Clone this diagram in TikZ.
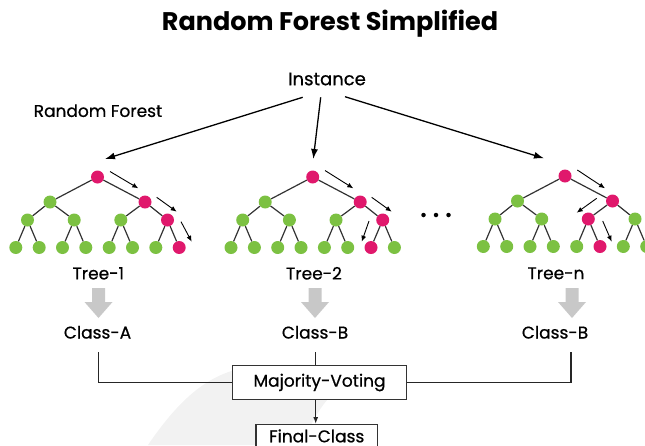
\documentclass[tikz,border=0pt]{standalone}
\usepackage{fontspec}
\setmainfont{Poppins}
\newfontfamily\medfont[FakeBold=0.7]{Poppins}
\usetikzlibrary{arrows.meta,calc}
\definecolor{lg}{HTML}{7CC142}
\definecolor{mg}{HTML}{E0186C}
\definecolor{edgec}{HTML}{333333}
\definecolor{blockc}{HTML}{C8C8C8}
\definecolor{wm}{HTML}{F2F2F2}
\tikzset{
  gn/.style={circle,fill=lg,inner sep=0pt,minimum size=13pt},
  rn/.style={circle,fill=mg,inner sep=0pt,minimum size=13pt},
  tedge/.style={draw=edgec,line width=1.2pt},
  patharrow/.style={draw=black,line width=0.9pt,-{Latex[length=6pt,width=5pt]}},
  bigarrow/.style={draw=black,line width=1.3pt,-{Latex[length=10pt,width=7pt]}},
  lbl/.style={font=\medfont\fontsize{17}{20}\selectfont,inner sep=0pt},
  vbox/.style={draw=edgec,line width=1.2pt,fill=white,inner sep=0pt,font=\medfont\fontsize{17}{20}\selectfont},
  conn/.style={draw=black!85,line width=1.5pt},
  dotn/.style={circle,fill=black,inner sep=0pt,minimum size=4.5pt},
}
\newcommand{\treeedges}[1]{%
  \draw[tedge] (#1r)--(#1a) (#1r)--(#1b)
    (#1a)--(#1c) (#1a)--(#1d) (#1b)--(#1e) (#1b)--(#1f)
    (#1c)--(#1l1) (#1c)--(#1l2) (#1d)--(#1l3) (#1d)--(#1l4)
    (#1e)--(#1l5) (#1e)--(#1l6) (#1f)--(#1l7) (#1f)--(#1l8);}
\begin{document}
\begin{tikzpicture}[x=1pt,y=-1pt]
\useasboundingbox (0,0) rectangle (645,445);
% watermark
\fill[wm] (148,445) .. controls (180,398) and (210,372) .. (250,367)
  .. controls (300,362) and (350,366) .. (380,372)
  .. controls (345,375) and (318,400) .. (303,445) -- cycle;

% title and labels
\node[font=\bfseries\fontsize{25.5}{30}\selectfont,inner sep=0pt] (title) at (330,23.5) {Random Forest Simplified};
\node[lbl,font=\medfont\fontsize{18}{22}\selectfont] (inst) at (327,79) {Instance};
\node[lbl] (rf) at (98,110.7) {Random Forest};

% Tree 1
\begin{scope}[shift={(97.5,177)}]
\node[rn] (Ar) at (0,0) {};
\node[gn] (Aa) at (-47.5,25) {}; \node[rn] (Ab) at (47.5,25) {};
\node[gn] (Ac) at (-70,43) {}; \node[gn] (Ad) at (-23.3,43) {};
\node[gn] (Ae) at (23.3,43) {}; \node[rn] (Af) at (70,43) {};
\node[gn] (Al1) at (-81.7,70.5) {}; \node[gn] (Al2) at (-58.3,70.5) {};
\node[gn] (Al3) at (-35,70.5) {}; \node[gn] (Al4) at (-11.7,70.5) {};
\node[gn] (Al5) at (11.7,70.5) {}; \node[gn] (Al6) at (35,70.5) {};
\node[gn] (Al7) at (58.3,70.5) {}; \node[rn] (Al8) at (81.7,70.5) {};
\draw[patharrow] (12.5,-5.5) -- (40.8,11.3);
\draw[patharrow] (59.2,20.3) -- (79.2,34.7);
\draw[patharrow] (83.5,44.7) -- (94.2,64.7);
\end{scope}

% Tree 2
\begin{scope}[shift={(312.7,177)}]
\node[rn] (Br) at (0,0) {};
\node[gn] (Ba) at (-47.5,25) {}; \node[rn] (Bb) at (47.5,25) {};
\node[gn] (Bc) at (-70,43) {}; \node[gn] (Bd) at (-23.3,43) {};
\node[gn] (Be) at (23.3,43) {}; \node[rn] (Bf) at (70,43) {};
\node[gn] (Bl1) at (-81.7,70.5) {}; \node[gn] (Bl2) at (-58.3,70.5) {};
\node[gn] (Bl3) at (-35,70.5) {}; \node[gn] (Bl4) at (-11.7,70.5) {};
\node[gn] (Bl5) at (11.7,70.5) {}; \node[gn] (Bl6) at (35,70.5) {};
\node[rn] (Bl7) at (58.3,70.5) {}; \node[gn] (Bl8) at (81.7,70.5) {};
\draw[patharrow] (12.3,-6.5) -- (40.6,11.3);
\draw[patharrow] (59,20.3) -- (79,34.7);
\draw[patharrow] (56.3,44) -- (49,64.7);
\end{scope}

% Tree 3
\begin{scope}[shift={(565,176)}]
\node[rn] (Cr) at (0,0) {};
\node[gn] (Ca) at (-47.5,25) {}; \node[rn] (Cb) at (47.5,25) {};
\node[gn] (Cc) at (-70,43) {}; \node[gn] (Cd) at (-23.3,43) {};
\node[rn] (Ce) at (23.3,43) {}; \node[gn] (Cf) at (70,43) {};
\node[gn] (Cl1) at (-81.7,70.5) {}; \node[gn] (Cl2) at (-58.3,70.5) {};
\node[gn] (Cl3) at (-35,70.5) {}; \node[gn] (Cl4) at (-11.7,70.5) {};
\node[gn] (Cl5) at (11.7,70.5) {}; \node[rn] (Cl6) at (35,70.5) {};
\node[gn] (Cl7) at (58.3,70.5) {}; \node[gn] (Cl8) at (81.7,70.5) {};
\draw[patharrow] (12.3,-6) -- (40,12.3);
\draw[patharrow] (31.7,22.3) -- (11.7,36.7);
\draw[patharrow] (37.7,45) -- (46.7,65.7);
\end{scope}

\treeedges{A}\treeedges{B}\treeedges{C}

% dots
\node[dotn] (d1) at (423.5,215) {};
\node[dotn] (d2) at (436,215) {};
\node[dotn] (d3) at (448.5,215) {};

% instance arrows
\coordinate (s1) at (302.7,97.3);
\coordinate (s2) at (320.7,97.3);
\coordinate (s3) at (345,96.7);
\coordinate (e1) at (105,159);
\coordinate (e2) at (313.3,159);
\coordinate (e3) at (544,158.3);
\draw[bigarrow] (s1) -- (e1);
\draw[bigarrow] (s2) -- (e2);
\draw[bigarrow] (s3) -- (e3);

% tree labels
\node[lbl] (t1) at (98.3,273.3) {Tree-1};
\node[lbl] (t2) at (314,273.3) {Tree-2};
\node[lbl] (t3) at (556,273.3) {Tree-n};

% gray block arrows
\foreach \x/\nm in {98.5/g1,315/g2,572/g3}{
  \coordinate (\nm) at (\x,288);
  \fill[blockc] ($(\nm)+(-6.5,0)$) -- ++(13,0) -- ++(0,14) -- ++(7.5,0) -- ($(\nm)+(0,30)$) -- ($(\nm)+(-14,14)$) -- ++(7.5,0) -- cycle;
}

% class labels
\node[lbl] (c1) at (97.5,332.3) {Class-A};
\node[lbl] (c2) at (315,332.3) {Class-B};
\node[lbl] (c3) at (555,332.3) {Class-B};

% voting
\node[vbox,minimum width=174.4pt,minimum height=33.6pt] (mv) at (319.5,382.5) {Majority-Voting};
\node[vbox,minimum width=121.3pt,minimum height=22.6pt,anchor=north] (fc) at (316.7,424) {Final-Class};

\coordinate (v1) at (98.7,352);
\coordinate (v2) at (315.7,352);
\coordinate (v3) at (571,352);
\draw[conn] (v1) -- (v1 |- mv.west) -- (mv.west);
\draw[conn] (v3) -- (v3 |- mv.east) -- (mv.east);
\draw[conn] (v2) -- (v2 |- mv.north);
\draw[conn,line width=1.2pt,-{Latex[length=7pt,width=5pt]}] (v2 |- mv.south) -- (v2 |- fc.north);
\end{tikzpicture}
\end{document}
